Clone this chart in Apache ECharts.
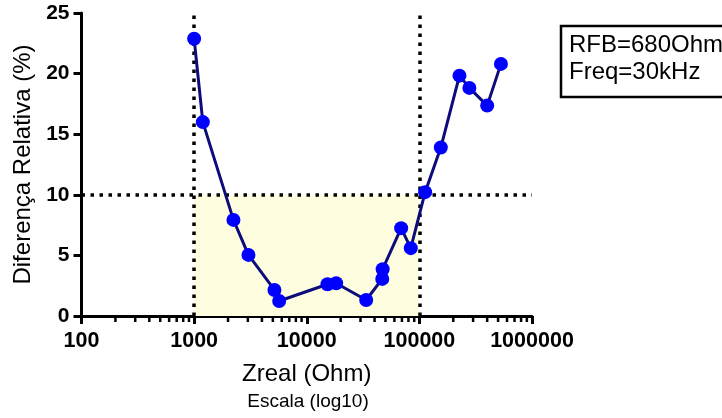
<!DOCTYPE html>
<html>
<head>
<meta charset="utf-8">
<script src="https://cdn.jsdelivr.net/npm/echarts@6/dist/echarts.min.js"></script>
<style>
  html, body { margin: 0; padding: 0; background: #fff; }
  #chart { width: 722px; height: 418px; }
</style>
</head>
<body>
<div id="chart"></div>
<script>
// Zreal (Ohm) vs diferença relativa (%)
const zreal = [1000, 1195, 2234, 3035, 5164, 5689, 15276, 18240, 33700, 46800, 47200, 68900, 83900, 112500, 155000, 227000, 278000, 400000, 530000];
const difRel = [22.87, 16.0, 7.93, 5.04, 2.15, 1.24, 2.62, 2.70, 1.32, 3.06, 3.86, 7.25, 5.6, 10.22, 13.9, 19.83, 18.82, 17.36, 20.8];

const xMin = 100, xMax = 1000000;
const yMin = 0, yMax = 25, yStep = 5;
const limitY = 10;
const limitX = [1000, 100000];
const legendLines = ['RFB=680Ohm', 'Freq=30kHz'];

// minor ticks 2..9 of every decade
const minorTicks = [];
for (let d = xMin; d < xMax; d *= 10) {
    for (let k = 2; k <= 9; k++) minorTicks.push(d * k);
}

const font = "'Liberation Sans', Arial, sans-serif";

let dom = document.getElementById('chart');
let myChart = echarts.init(dom);

let options = {
    animation: false,
    grid: { left: 81.5, right: 190, top: 13, bottom: 102 },
    xAxis: {
        type: 'log',
        logBase: 10,
        min: xMin,
        max: xMax,
        name: 'Zreal (Ohm)',
        nameLocation: 'middle',
        nameGap: 46,
        nameTextStyle: { fontFamily: font, fontSize: 24, color: '#000' },
        axisLine: { onZero: false, lineStyle: { color: '#000', width: 3 } },
        axisTick: { show: true, length: 8, lineStyle: { color: '#000', width: 3 } },
        axisLabel: {
            fontFamily: font, fontSize: 21.5, fontWeight: 'bold', color: '#000', margin: 14,
            formatter: v => String(Math.round(v))
        },
        splitLine: { show: false }
    },
    yAxis: {
        type: 'value',
        min: yMin,
        max: yMax,
        interval: yStep,
        name: 'Diferença Relativa (%)',
        nameLocation: 'middle',
        nameGap: 46,
        nameTextStyle: { fontFamily: font, fontSize: 24, color: '#000' },
        axisLine: { show: true, lineStyle: { color: '#000', width: 3 } },
        axisTick: { show: true, length: 8, lineStyle: { color: '#000', width: 3 } },
        axisLabel: { fontFamily: font, fontSize: 21, fontWeight: 'bold', color: '#000', margin: 12 },
        splitLine: { show: false }
    },
    graphic: [
        {
            type: 'rect',
            shape: { x: 561, y: 26, width: 175, height: 71 },
            style: { fill: '#fff', stroke: '#000', lineWidth: 2.5 }
        },
        {
            type: 'text',
            x: 569,
            y: 32,
            style: {
                text: legendLines.join('\n'),
                font: '24px ' + font,
                lineHeight: 27,
                fill: '#000',
                verticalAlign: 'top'
            }
        },
        {
            type: 'text',
            x: 308,
            y: 402,
            style: {
                text: 'Escala (log10)',
                font: '19px ' + font,
                fill: '#000',
                align: 'center',
                verticalAlign: 'middle'
            }
        }
    ],
    series: [
        {
            type: 'custom',
            silent: true,
            clip: false,
            data: minorTicks.map(v => [v, yMin]),
            renderItem(params, api) {
                let p = api.coord([api.value(0), api.value(1)]);
                return {
                    type: 'line',
                    shape: { x1: p[0], y1: p[1] + 1, x2: p[0], y2: p[1] + 6 },
                    style: { stroke: '#000', lineWidth: 2.5 }
                };
            }
        },
        {
            type: 'line',
            data: zreal.map((x, i) => [x, difRel[i]]),
            symbol: 'circle',
            symbolSize: 14,
            z: 5,
            lineStyle: { color: '#0c0c7a', width: 3 },
            itemStyle: { color: '#0000ff' },
            markArea: {
                silent: true,
                itemStyle: { color: '#fefde0' },
                data: [[{ coord: [limitX[0], yMin] }, { coord: [limitX[1], limitY] }]]
            },
            markLine: {
                silent: true,
                symbol: 'none',
                label: { show: false },
                lineStyle: { color: '#000', width: 3.5, type: [3.5, 5.5], cap: 'butt' },
                data: [
                    [{ coord: [xMin, limitY] }, { coord: [xMax, limitY] }],
                    [{ coord: [limitX[0], yMin] }, { coord: [limitX[0], yMax] }],
                    [{ coord: [limitX[1], yMin] }, { coord: [limitX[1], yMax] }]
                ]
            }
        }
    ]
};

myChart.setOption(options);
</script>
</body>
</html>
